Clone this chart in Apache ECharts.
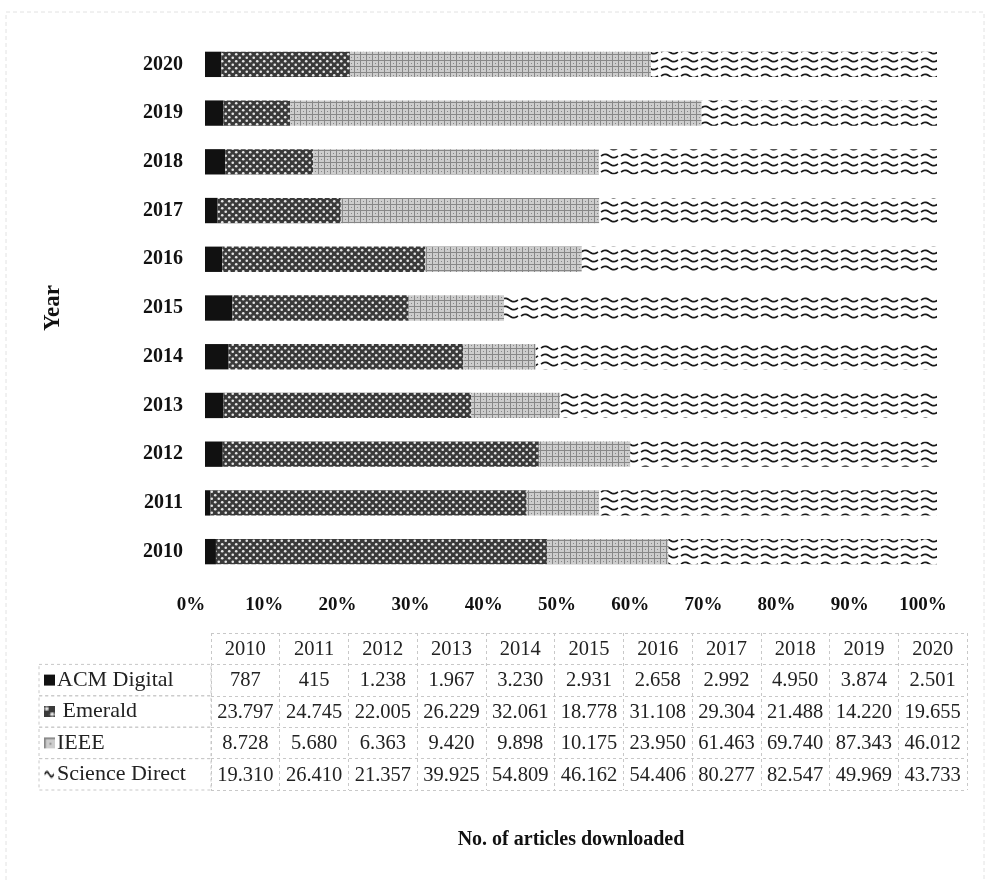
<!doctype html>
<html>
<head>
	<meta charset="utf-8">
	<title>Articles downloaded per year</title>
	<script src="https://cdn.jsdelivr.net/npm/echarts@6/dist/echarts.min.js"></script>
	<style>
		html, body { margin: 0; padding: 0; background: #fff; }
		#main { width: 996px; height: 881px; }
	</style>
</head>
<body>
	<div id="main"></div>
	<script type="text/javascript">
		// data
		var years = ['2010', '2011', '2012', '2013', '2014', '2015', '2016', '2017', '2018', '2019', '2020'];
		var seriesNames = ['ACM Digital', 'Emerald', 'IEEE', 'Science Direct'];
		var acm = [787, 415, 1238, 1967, 3230, 2931, 2658, 2992, 4950, 3874, 2501];
		var emerald = [23797, 24745, 22005, 26229, 32061, 18778, 31108, 29304, 21488, 14220, 19655];
		var ieee = [8728, 5680, 6363, 9420, 9898, 10175, 23950, 61463, 69740, 87343, 46012];
		var scienceDirect = [19310, 26410, 21357, 39925, 54809, 46162, 54406, 80277, 82547, 49969, 43733];
		var tickLabels = ['0%', '10%', '20%', '30%', '40%', '50%', '60%', '70%', '80%', '90%', '100%'];

		var allValues = [acm, emerald, ieee, scienceDirect];
		var serif = '"Liberation Serif", "Times New Roman", serif';

		// pattern tiles, like the fills of the printed chart
		function tile(w, h, draw) {
			var c = document.createElement('canvas');
			c.width = w;
			c.height = h;
			draw(c.getContext('2d'));
			return c;
		}
		var acmTile = tile(8, 8, function(ctx) {
			ctx.fillStyle = '#111';
			ctx.fillRect(0, 0, 8, 8);
		});
		var emeraldTile = tile(7, 7, function(ctx) {
			ctx.fillStyle = '#3a3a3a';
			ctx.fillRect(0, 0, 7, 7);
			ctx.fillStyle = '#e6e6e6';
			ctx.beginPath(); ctx.arc(1.75, 1.75, 1.3, 0, Math.PI * 2); ctx.fill();
			ctx.beginPath(); ctx.arc(5.25, 5.25, 1.3, 0, Math.PI * 2); ctx.fill();
		});
		var ieeeTile = tile(6, 6, function(ctx) {
			ctx.fillStyle = '#cdcdcd';
			ctx.fillRect(0, 0, 6, 6);
			ctx.fillStyle = '#878787';
			ctx.fillRect(0, 0, 6, 1);
			ctx.fillRect(0, 0, 1, 6);
			ctx.fillRect(3, 3, 1, 1);
		});
		var sdTile = tile(20, 8, function(ctx) {
			ctx.fillStyle = '#fff';
			ctx.fillRect(0, 0, 20, 8);
			ctx.strokeStyle = '#1a1a1a';
			ctx.lineWidth = 1.7;
			ctx.beginPath();
			for (var x = 1; x <= 18; x++) {
				var y = 4 - 1.7 * Math.sin((x - 1) / 17 * Math.PI * 2);
				if (x === 1) ctx.moveTo(x, y); else ctx.lineTo(x, y);
			}
			ctx.stroke();
		});
		var tiles = [acmTile, emeraldTile, ieeeTile, sdTile];

		// percent share for each year (100% stacked)
		var totals = years.map(function(y, i) {
			return acm[i] + emerald[i] + ieee[i] + scienceDirect[i];
		});

		function fmt(n) {
			var s = String(n);
			return s.length > 3 ? s.slice(0, s.length - 3) + '.' + s.slice(s.length - 3) : s;
		}

		var barSeries = allValues.map(function(vals, k) {
			return {
				name: seriesNames[k],
				type: 'bar',
				stack: 'total',
				barWidth: '52%',
				xAxisIndex: 0,
				yAxisIndex: 0,
				itemStyle: { color: { image: tiles[k], repeat: 'repeat' } },
				data: vals.map(function(v, i) { return v / totals[i] * 100; })
			};
		});

		// table cells: row 0 is the header with years
		var cellData = [];
		var cellText = [];
		years.forEach(function(y, i) {
			cellData.push([i, 0]);
			cellText.push(y);
		});
		allValues.forEach(function(vals, k) {
			vals.forEach(function(v, i) {
				cellData.push([i, k + 1]);
				cellText.push(fmt(v));
			});
		});

		var labelColW = 172;
		var dashed = { stroke: '#c8c8c8', lineWidth: 1, lineDash: [3, 3], fill: null };

		var tableSeries = {
			type: 'custom',
			xAxisIndex: 1,
			yAxisIndex: 1,
			silent: true,
			data: cellData,
			renderItem: function(params, api) {
				var col = api.value(0), row = api.value(1);
				var c = api.coord([col, row]);
				var s = api.size([1, 1]);
				var children = [{
					type: 'text',
					style: {
						text: cellText[params.dataIndex],
						x: c[0], y: c[1] + 1,
						align: 'center', verticalAlign: 'middle',
						font: '20.5px ' + serif,
						fill: '#222'
					}
				}];
				if (col === 0 && row > 0) {
					children.push({
						type: 'rect',
						shape: { x: c[0] - s[0] / 2 - labelColW, y: c[1] - s[1] / 2, width: labelColW, height: s[1] },
						style: dashed
					});
				}
				return { type: 'group', children: children };
			}
		};

		var richIcons = { n: { fontFamily: serif, fontSize: 22, color: '#222', padding: [0, 0, 0, 2] } };
		tiles.forEach(function(t, k) {
			richIcons['i' + k] = { width: 11, height: 11, backgroundColor: { image: t } };
		});

		var myChart = echarts.init(document.getElementById('main'));
		var option = {
			backgroundColor: '#fff',
			animation: false,
			graphic: [{
				type: 'rect',
				silent: true,
				shape: { x: 6, y: 12, width: 978, height: 870 },
				style: { fill: null, stroke: '#e2e2e2', lineWidth: 1, lineDash: [4, 3] }
			}],
			grid: [
				{ left: 205, right: 59, top: 40, height: 536 },
				{ left: 211, right: 29, top: 633, height: 157 }
			],
			xAxis: [{
				gridIndex: 0,
				type: 'value',
				min: 0,
				max: 100,
				interval: 10,
				axisLine: { show: false },
				axisTick: { show: false },
				splitLine: { show: false },
				axisLabel: {
					margin: 20,
					padding: [0, 28, 0, 0],
					fontFamily: serif,
					fontWeight: 'bold',
					fontSize: 19,
					color: '#111',
					formatter: function(v) { return tickLabels[Math.round(v / 10)]; }
				},
				name: 'No. of articles downloaded',
				nameLocation: 'middle',
				nameGap: 254,
				nameTextStyle: { fontFamily: serif, fontWeight: 'bold', fontSize: 20, color: '#111' }
			}, {
				gridIndex: 1,
				type: 'category',
				data: years,
				axisLine: { show: false },
				axisTick: { show: false },
				axisLabel: { show: false },
				splitLine: { show: true, lineStyle: { color: '#c8c8c8', type: [3, 3] } }
			}],
			yAxis: [{
				gridIndex: 0,
				type: 'category',
				data: years,
				axisLine: { show: false },
				axisTick: { show: false },
				axisLabel: {
					margin: 22,
					fontFamily: serif,
					fontWeight: 'bold',
					fontSize: 20,
					color: '#111'
				},
				name: 'Year',
				nameLocation: 'middle',
				nameGap: 140,
				nameRotate: 90,
				nameTextStyle: { fontFamily: serif, fontWeight: 'bold', fontSize: 23, color: '#111' }
			}, {
				gridIndex: 1,
				type: 'category',
				inverse: true,
				data: [''].concat(seriesNames),
				axisLine: { show: false },
				axisTick: { show: false },
				splitLine: { show: true, lineStyle: { color: '#c8c8c8', type: [3, 3] } },
				axisLabel: {
					align: 'left',
					margin: 167,
					formatter: function(v) {
						var k = seriesNames.indexOf(v);
						return k < 0 ? '' : '{i' + k + '|}{n|' + (k === 1 ? ' ' : '') + v + '}';
					},
					rich: richIcons
				}
			}],
			series: barSeries.concat([tableSeries])
		};
		myChart.setOption(option);
	</script>
</body>
</html>
